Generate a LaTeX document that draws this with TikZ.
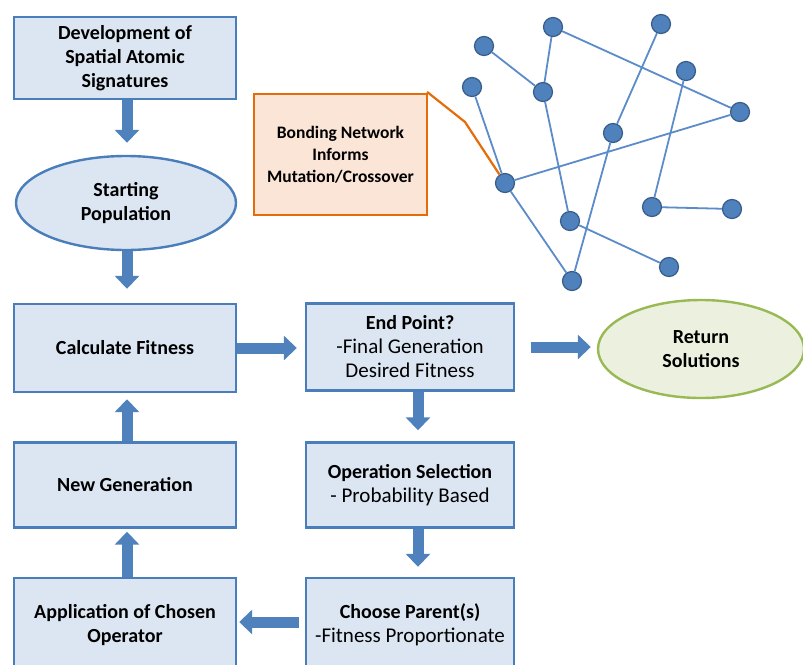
\documentclass[tikz,border=0pt]{standalone}
\usepackage{fontspec}
\setmainfont{Carlito}
\usetikzlibrary{arrows.meta,shapes.geometric}
\definecolor{boxfill}{HTML}{DCE6F2}
\definecolor{boxline}{HTML}{4A7EBB}
\definecolor{arrowblue}{HTML}{4F81BD}
\definecolor{atomfill}{HTML}{4F81BD}
\definecolor{atomline}{HTML}{385D8A}
\definecolor{bondblue}{HTML}{5B8BC9}
\definecolor{greenfill}{HTML}{EBF1DE}
\definecolor{greenline}{HTML}{98B954}
\definecolor{notefill}{HTML}{FBE5D6}
\definecolor{noteline}{HTML}{E46C0A}
\tikzset{
  flowbox/.style={draw=boxline, line width=2.4pt, fill=boxfill, rectangle,
    align=center, inner sep=2pt, font=\fontsize{21}{24}\selectfont},
  boldbox/.style={flowbox, font=\fontsize{20}{24}\selectfont\bfseries},
  flowoval/.style={draw=boxline, line width=2.4pt, fill=boxfill, ellipse,
    align=center, inner sep=0pt, font=\fontsize{20}{24}\selectfont\bfseries},
  endoval/.style={draw=greenline, line width=2.4pt, fill=greenfill, ellipse,
    align=center, inner sep=0pt, font=\fontsize{20}{24}\selectfont\bfseries},
  notebox/.style={draw=noteline, line width=2.2pt, fill=notefill, rectangle,
    align=center, font=\fontsize{17.5}{22}\selectfont\bfseries},
  blockarrow/.style={draw=arrowblue, line width=11pt,
    -{Triangle[width=24pt 0 0,length=13pt 0 0]}},
  atom/.style={circle, draw=atomline, line width=1.2pt, fill=atomfill,
    minimum size=19pt, inner sep=0pt},
  bond/.style={draw=bondblue, line width=1.8pt},
  leader/.style={draw=noteline, line width=2.2pt}
}
\begin{document}
\begin{tikzpicture}[x=1pt,y=-1pt]
\useasboundingbox (0,0) rectangle (803,664);

% flow chart blocks
\node[boldbox, minimum width=222pt, minimum height=82pt]
  (dev) at (125,58) {Development of\\Spatial Atomic\\Signatures};
\node[flowoval, minimum width=220pt, minimum height=94pt] (start) at (126,203) {Starting\\Population};
\node[boldbox, minimum width=222pt, minimum height=88pt] (calc) at (125,348) {Calculate Fitness};
\node[flowbox, minimum width=208pt, minimum height=87pt] (endp) at (410,347)
  {{\fontsize{20}{24}\selectfont\bfseries End Point?}\\-Final Generation\\Desired Fitness};
\node[endoval, minimum width=206pt, minimum height=98pt] (ret) at (701,349) {Return\\Solutions};
\node[flowbox, minimum width=208pt, minimum height=85pt] (opsel) at (410,485)
  {{\fontsize{20}{24}\selectfont\bfseries Operation Selection}\\- Probability Based};
\node[flowbox, minimum width=208pt, minimum height=94pt] (parent) at (410,625)
  {{\fontsize{20}{24}\selectfont\bfseries Choose Parent(s)}\\-Fitness Proportionate};
\node[boldbox, minimum width=222pt, minimum height=94pt] (apply) at (125,625)
  {Application of Chosen\\Operator};
\node[boldbox, minimum width=222pt, minimum height=85pt] (newgen) at (125,485) {New Generation};

% block arrows between the blocks
\coordinate (lcol) at (127,0);
\coordinate (rcol) at (418,0);
\draw[blockarrow, shorten >=12pt] (dev.south -| lcol) -- (start.north -| lcol);
\draw[blockarrow, shorten >=14pt] (start.south -| lcol) -- (calc.north -| lcol);
\draw[blockarrow, shorten >=8pt] (calc.east) -- (calc.east -| endp.west);
\draw[blockarrow, shorten <=16pt, shorten >=6pt] (endp.east) -- (endp.east -| ret.west);
\draw[blockarrow, shorten >=11pt] (endp.south -| rcol) -- (opsel.north -| rcol);
\draw[blockarrow, shorten >=10pt] (opsel.south -| rcol) -- (parent.north -| rcol);
\draw[blockarrow, shorten <=6pt, shorten >=2pt] ([yshift=3pt]parent.west) -- ([yshift=3pt]parent.west -| apply.east);
\draw[blockarrow, shorten >=3pt] (apply.north -| lcol) -- (newgen.south -| lcol);
\draw[blockarrow, shorten >=6pt] (newgen.north -| lcol) -- (calc.south -| lcol);

% bonding network: atoms
\node[atom] (a1) at (484,46) {};
\node[atom] (a2) at (553,27) {};
\node[atom] (a3) at (661,24) {};
\node[atom] (a4) at (472,87) {};
\node[atom] (a5) at (543,92) {};
\node[atom] (a6) at (686,71) {};
\node[atom] (a7) at (740,112) {};
\node[atom] (a8) at (613,133) {};
\node[atom] (a9) at (505,183) {};
\node[atom] (a10) at (570,221) {};
\node[atom] (a11) at (652,207) {};
\node[atom] (a12) at (732,209) {};
\node[atom] (a13) at (669,267) {};
\node[atom] (a14) at (572,281) {};
% bonds
\path[bond] (a1) -- (a5) (a2) -- (a5) (a2) -- (a7) (a3) -- (a8) (a8) -- (a14)
  (a4) -- (a9) (a5) -- (a10) (a9) -- (a7) (a9) -- (a14) (a10) -- (a13)
  (a6) -- (a11) (a11) -- (a12);

% callout
\node[notebox, minimum width=173pt, minimum height=121pt] (note) at (340.5,154.5)
  {Bonding Network\\Informs\\Mutation/Crossover};
\coordinate (bend) at (465,122);
\draw[leader] ([xshift=-1pt,yshift=1pt]note.north east) -- (bend) -- (a9);
\end{tikzpicture}
\end{document}
